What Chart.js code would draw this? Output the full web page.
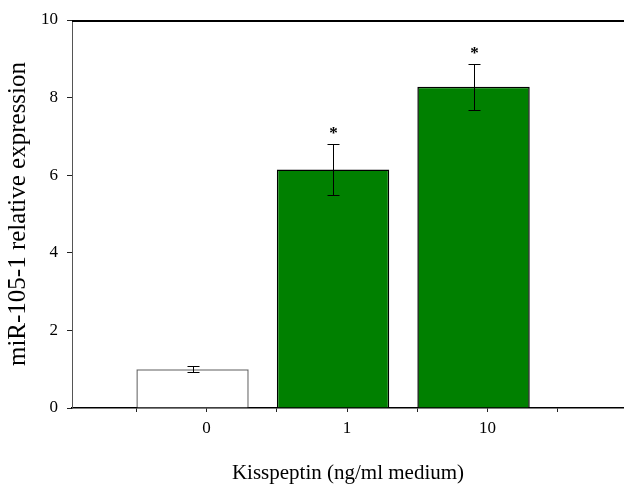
<!DOCTYPE html>
<html><head><meta charset="utf-8">
<script src="https://cdn.jsdelivr.net/npm/chart.js@4/dist/chart.umd.min.js"></script>
<style>html,body{margin:0;padding:0;background:#fff;}#wrap{width:624px;height:486px;}</style>
</head><body><div id="wrap"><canvas id="c" width="624" height="486"></canvas></div>
<script>
// ---- data ----
const categories = ['0', '1', '10'];
const expression = [1.00, 6.15, 8.28];
const errors = [0.08, 0.65, 0.59];
const significance = ['', '*', '*'];
const yTicks = [0, 2, 4, 6, 8, 10];
const xTitle = 'Kisspeptin (ng/ml medium)';
const yTitle = 'miR-105-1 relative expression';
const barFill = ['#ffffff', '#008000', '#008000'];
const barEdge = ['#707070', '#000000', '#000000'];

const SERIF = '"Liberation Serif", "Times New Roman", serif';

// x tick marks: bar boundaries and label positions (label offset quirk of original)
const xTickValues = [];
categories.forEach((c, i) => { xTickValues.push(i - 0.4); xTickValues.push(i + 0.1); });
xTickValues.push(categories.length - 1 + 0.6);

const errorBars = {
  id: 'errorBars',
  afterDatasetsDraw(chart) {
    const {ctx, scales: {x, y}} = chart;
    ctx.save();
    ctx.strokeStyle = '#000';
    ctx.lineWidth = 1;
    expression.forEach((v, i) => {
      const px = Math.round(x.getPixelForValue(i)) + 0.5;
      const top = Math.round(y.getPixelForValue(v + errors[i])) + 0.5;
      const bot = Math.round(y.getPixelForValue(v - errors[i])) + 0.5;
      ctx.beginPath();
      ctx.moveTo(px, top); ctx.lineTo(px, bot);
      ctx.moveTo(px - 6, top); ctx.lineTo(px + 6, top);
      ctx.moveTo(px - 6, bot); ctx.lineTo(px + 6, bot);
      ctx.stroke();
      if (significance[i]) {
        ctx.fillStyle = '#000';
        ctx.font = 'bold 17px ' + SERIF;
        ctx.textAlign = 'center';
        ctx.textBaseline = 'alphabetic';
        ctx.fillText(significance[i], px, top - 7);
      }
    });
    ctx.restore();
  }
};

const topFrame = {
  id: 'topFrame',
  afterDraw(chart) {
    const {ctx, chartArea} = chart;
    ctx.save();
    ctx.strokeStyle = '#000';
    ctx.lineWidth = 2;
    ctx.beginPath();
    ctx.moveTo(chartArea.left, chartArea.top + 1);
    ctx.lineTo(chartArea.right, chartArea.top + 1);
    ctx.stroke();
    ctx.restore();
  }
};

new Chart(document.getElementById('c'), {
  type: 'bar',
  data: {
    datasets: [{
      data: expression.map((v, i) => ({x: i, y: v})),
      backgroundColor: barFill,
      borderColor: barEdge,
      borderWidth: 1.5,
      // bar width measured against the tick spacing (half a category): 1.6 ticks = 0.8 category
      barPercentage: 1.6,
      categoryPercentage: 1.0
    }]
  },
  options: {
    responsive: false,
    animation: false,
    devicePixelRatio: 1,
    layout: {padding: {top: 20, left: 0, right: 0, bottom: 0}},
    plugins: {legend: {display: false}, tooltip: {enabled: false}},
    scales: {
      x: {
        type: 'linear',
        offset: false,
        min: -0.858,
        max: 3.071,
        z: 1,
        afterBuildTicks: s => { s.ticks = xTickValues.map(v => ({value: v})); },
        afterFit: s => { s.height = 78; },
        border: {display: true, color: '#000', width: 1.5},
        grid: {offset: false, drawOnChartArea: false, drawTicks: true, tickLength: 4, color: '#222', lineWidth: 1},
        ticks: {
          autoSkip: false, maxRotation: 0, padding: 6, color: '#000',
          font: {family: SERIF, size: 17},
          callback: (v, idx) => (idx % 2 === 1 ? categories[(idx - 1) / 2] : '')
        },
        title: {display: true, text: xTitle, color: '#000',
          font: {family: SERIF, size: 21, lineHeight: 1.2}, padding: {top: 0, bottom: 0}}
      },
      y: {
        min: 0, max: 10,
        afterBuildTicks: s => { s.ticks = yTicks.map(v => ({value: v})); },
        afterFit: s => { s.width = 72; },
        border: {display: true, color: '#555', width: 1},
        grid: {drawOnChartArea: false, drawTicks: true, tickLength: 5, color: '#222', lineWidth: 1},
        ticks: {padding: 9, color: '#000', font: {family: SERIF, size: 17}},
        title: {display: true, text: yTitle, color: '#000',
          font: {family: SERIF, size: 25, lineHeight: 1.2}, padding: {top: 3, bottom: 0}}
      }
    }
  },
  plugins: [errorBars, topFrame]
});
</script>
</body></html>
